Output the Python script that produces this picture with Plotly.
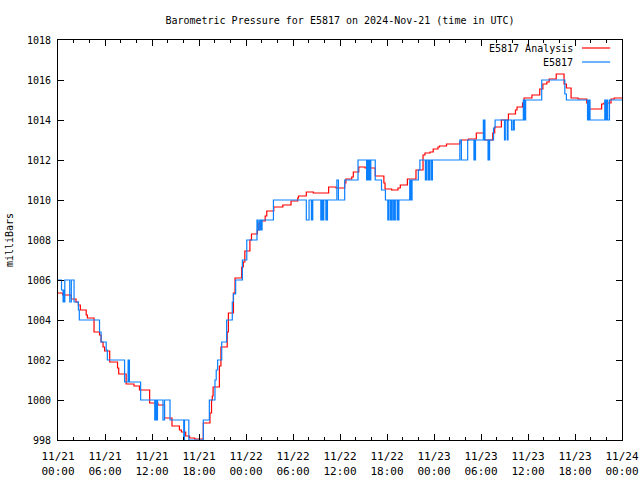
import pandas as pd
import plotly.graph_objects as go

# ---------------- data (hours after 2024-11-21 00:00 UTC, milliBars) ----------------
start_time = "2024-11-21 00:00"
end_hours = 72

analysis_hours = [0.0, 0.6, 1.7, 2.3, 2.6, 2.85, 3.6, 3.75, 4.6, 5.3, 5.5, 5.75, 5.95, 6.6, 7.6, 7.75,
                  8.7, 9.7, 10.4, 11.7, 12.75, 13.6, 14.55, 15.5, 15.75, 16.3, 16.8, 17.45, 18.55,
                  19.4, 19.6, 19.7, 19.8, 20.6, 20.8, 21.6, 21.75, 22.4, 22.6, 23.45, 23.65, 23.85,
                  24.5, 24.7, 25.45, 25.65, 25.9, 26.45, 26.65, 27.55, 28.7, 29.75, 30.6, 30.7, 31.7,
                  32.6, 34.55, 35.5, 36.6, 36.75, 37.5, 37.7, 38.4, 39.2, 40.5, 41.6, 41.75, 42.6,
                  43.4, 43.7, 44.6, 45.7, 46.6, 46.85, 47.5, 47.9, 48.5, 48.7, 49.6, 51.3, 51.5,
                  52.4, 53.4, 54.45, 55.5, 55.75, 56.6, 57.5, 58.4, 58.6, 59.3, 59.5, 60.5, 61.5,
                  61.9, 62.4, 62.7, 63.6, 64.6, 64.9, 65.5, 66.4, 67.5, 67.7, 69.4, 69.7, 70.6,
                  71.0, 72.0]
analysis_mb = [1005.35, 1005.25, 1005.05, 1004.9, 1004.75, 1004.5, 1004.25, 1004.1, 1003.4, 1003.25,
               1002.9, 1002.65, 1002.45, 1001.9, 1001.6, 1001.3, 1000.8, 1000.7, 1000.5, 999.85,
               999.75, 999.1, 998.7, 998.5, 998.4, 998.2, 998.1, 998.05, 998.85, 999.35, 1000.0,
               1000.2, 1000.65, 1001.7, 1002.65, 1003.4, 1004.35, 1005.35, 1006.1, 1006.65, 1006.9,
               1007.45, 1008.0, 1008.3, 1008.5, 1008.85, 1008.95, 1009.2, 1009.45, 1009.65, 1009.75,
               1009.95, 1010.1, 1010.2, 1010.4, 1010.35, 1010.65, 1010.6, 1010.85, 1011.05, 1011.15,
               1011.4, 1011.65, 1011.6, 1011.2, 1010.85, 1010.55, 1010.5, 1010.6, 1010.75, 1011.05,
               1011.5, 1012.25, 1012.35, 1012.4, 1012.55, 1012.65, 1012.7, 1012.8, 1012.9, 1013.0,
               1013.05, 1013.35, 1013.0, 1013.35, 1013.65, 1014.0, 1014.3, 1014.5, 1014.65, 1014.85,
               1015.1, 1015.25, 1015.55, 1015.8, 1015.9, 1016.05, 1016.3, 1015.8, 1015.6, 1015.1,
               1015.05, 1014.85, 1014.55, 1014.8, 1014.85, 1015.05, 1015.1, 1015.1]

station_hours = [0.0, 0.45, 0.65, 0.72, 0.8, 0.87, 1.5, 1.7, 2.05, 2.6, 2.72, 5.3, 5.5, 6.15, 6.3,
                 8.5, 8.95, 9.0, 9.07, 9.12, 10.55, 12.35, 12.45, 12.55, 12.7, 13.4, 13.6, 14.3,
                 16.05, 16.15, 16.7, 18.55, 19.32, 20.04, 20.2, 20.38, 20.9, 21.53, 22.25, 22.38,
                 22.68, 23.54, 24.1, 25.4, 25.55, 25.75, 25.9, 26.05, 27.5, 31.7, 32.05, 32.35,
                 32.42, 32.47, 32.52, 33.55, 33.62, 33.7, 33.78, 33.85, 33.93, 34.2, 34.27, 34.33,
                 34.4, 35.6, 35.8, 36.6, 38.3, 39.4, 39.47, 39.53, 39.6, 39.72, 39.8, 39.86, 39.93,
                 40.5, 41.3, 41.8, 42.1, 42.2, 42.4, 42.48, 42.6, 42.67, 42.85, 42.92, 43.0, 43.06,
                 43.3, 43.37, 43.45, 43.52, 44.9, 44.97, 45.05, 45.12, 45.2, 46.0, 46.2, 46.9,
                 46.97, 47.03, 47.1, 47.3, 47.37, 47.43, 47.5, 47.7, 47.8, 51.3, 51.5, 52.3, 53.1,
                 53.17, 53.23, 53.3, 54.3, 54.37, 54.43, 54.5, 54.9, 54.97, 55.03, 55.1, 55.6, 55.8,
                 57.0, 57.1, 57.35, 57.45, 57.9, 58.1, 58.15, 58.25, 59.4, 59.47, 59.55, 59.62,
                 59.7, 61.75, 64.7, 64.9, 67.6, 67.7, 67.78, 67.85, 67.92, 69.8, 69.87, 69.95,
                 70.02, 70.1, 70.17, 70.4, 72.0]
station_mb = [1006.0, 1005.5, 1004.9, 1005.5, 1004.9, 1006.0, 1004.9, 1006.0, 1004.9, 1004.5, 1004.0,
              1003.4, 1002.9, 1002.5, 1002.0, 1000.9, 1002.0, 1000.9, 1002.0, 1000.9, 1000.0, 999.0,
              1000.0, 999.0, 1000.0, 999.0, 1000.0, 999.0, 998.0, 999.0, 998.0, 999.0, 1000.0,
              1001.0, 1001.5, 1002.0, 1002.9, 1004.0, 1004.9, 1005.3, 1006.0, 1007.0, 1008.0,
              1009.0, 1008.5, 1009.0, 1008.5, 1009.0, 1010.0, 1009.0, 1010.0, 1009.0, 1010.0,
              1009.0, 1010.0, 1009.0, 1010.0, 1009.0, 1010.0, 1009.0, 1010.0, 1009.0, 1010.0,
              1009.0, 1010.0, 1011.0, 1010.0, 1011.0, 1012.0, 1011.0, 1012.0, 1011.0, 1012.0,
              1011.0, 1012.0, 1011.0, 1012.0, 1011.0, 1010.5, 1010.0, 1009.0, 1010.0, 1009.0,
              1010.0, 1009.0, 1010.0, 1009.0, 1010.0, 1009.0, 1010.0, 1009.0, 1010.0, 1009.0,
              1010.0, 1011.0, 1010.0, 1011.0, 1010.0, 1011.0, 1011.5, 1012.0, 1011.0, 1012.0,
              1011.0, 1012.0, 1011.0, 1012.0, 1011.0, 1012.0, 1011.0, 1012.0, 1013.0, 1012.0,
              1013.0, 1012.0, 1013.0, 1012.0, 1013.0, 1014.0, 1013.0, 1014.0, 1013.0, 1012.0,
              1013.0, 1012.0, 1013.0, 1013.6, 1014.0, 1013.0, 1014.0, 1013.0, 1014.0, 1013.5,
              1014.0, 1013.5, 1014.0, 1015.0, 1014.0, 1015.0, 1014.0, 1015.0, 1016.0, 1015.3,
              1015.0, 1014.0, 1015.0, 1014.0, 1015.0, 1014.0, 1015.0, 1014.0, 1015.0, 1014.0,
              1015.0, 1014.0, 1015.0, 1015.0]

tick_hours = [0, 6, 12, 18, 24, 30, 36, 42, 48, 54, 60, 66, 72]
tick_labels = ["11/21<br>00:00", "11/21<br>06:00", "11/21<br>12:00", "11/21<br>18:00",
               "11/22<br>00:00", "11/22<br>06:00", "11/22<br>12:00", "11/22<br>18:00",
               "11/23<br>00:00", "11/23<br>06:00", "11/23<br>12:00", "11/23<br>18:00",
               "11/24<br>00:00"]
y_ticks = [998, 1000, 1002, 1004, 1006, 1008, 1010, 1012, 1014, 1016, 1018]

series_names = ["E5817 Analysis", "E5817"]
series_colors = ["#ff0000", "#0a80ff"]

# ---------------- build ----------------
base = pd.Timestamp(start_time)
def to_time(hours):
    return base + pd.to_timedelta(hours, unit="h")

FONT = "DejaVu Sans Mono"
FIG_W, FIG_H = 640, 480

fig = go.Figure()
fig.add_trace(go.Scatter(x=to_time(analysis_hours), y=analysis_mb, mode="lines",
                         line=dict(color=series_colors[0], width=1.2, shape="hv"),
                         name=series_names[0]))
fig.add_trace(go.Scatter(x=to_time(station_hours), y=station_mb, mode="lines",
                         line=dict(color=series_colors[1], width=1.2, shape="hv"),
                         name=series_names[1]))

# gnuplot-style key: text right-justified, sample line to the right
for i, (nm, col) in enumerate(zip(series_names, series_colors)):
    yp = 0.980 - i * 0.035
    fig.add_annotation(x=0.916, y=yp, xref="paper", yref="paper", text=nm, showarrow=False,
                       xanchor="right", yanchor="middle", font=dict(family=FONT, size=10, color="black"))
    fig.add_shape(type="line", xref="paper", yref="paper", x0=0.929, x1=0.979, y0=yp, y1=yp,
                  line=dict(color=col, width=1.2))

fig.update_layout(
    width=FIG_W, height=FIG_H,
    margin=dict(l=58, r=18, t=40, b=40, autoexpand=False),
    paper_bgcolor="white", plot_bgcolor="white",
    showlegend=False,
    font=dict(family=FONT, size=10, color="black"),
    title=dict(text="Barometric Pressure for E5817 on 2024-Nov-21 (time in UTC)",
               x=0.5, xref="paper", xanchor="center", y=1 - 20 / FIG_H, yref="container",
               yanchor="middle", font=dict(family=FONT, size=10, color="black")),
)
fig.update_xaxes(
    type="date", range=[to_time(0), to_time(end_hours)],
    tickmode="array", tickvals=to_time(tick_hours), ticktext=tick_labels,
    ticks="inside", ticklen=6, tickcolor="black", tickwidth=1, ticklabelstandoff=6,
    ticklabeloverflow="allow",
    showline=True, linecolor="black", linewidth=1, mirror="allticks",
    showgrid=False, zeroline=False, automargin=False,
    minor=dict(ticks="inside", ticklen=3, tickcolor="black", tickwidth=1,
               tick0=to_time(0), dtick=2 * 3600 * 1000, showgrid=False),
    tickfont=dict(family=FONT, size=11, color="black"),
)
fig.update_yaxes(
    range=[998, 1018], tickmode="array", tickvals=y_ticks,
    ticks="inside", ticklen=6, tickcolor="black", tickwidth=1, ticklabelstandoff=4,
    showline=True, linecolor="black", linewidth=1, mirror="allticks",
    showgrid=False, zeroline=False, automargin=False,
    tickfont=dict(family=FONT, size=10, color="black"),
    title=dict(text="milliBars", standoff=11, font=dict(family=FONT, size=10, color="black")),
)

# the page's default 8px body margin would offset and clip the 640x480 figure
fig.write_html("out.html", config={"displayModeBar": False},
               post_script="document.body.style.margin='0';")
